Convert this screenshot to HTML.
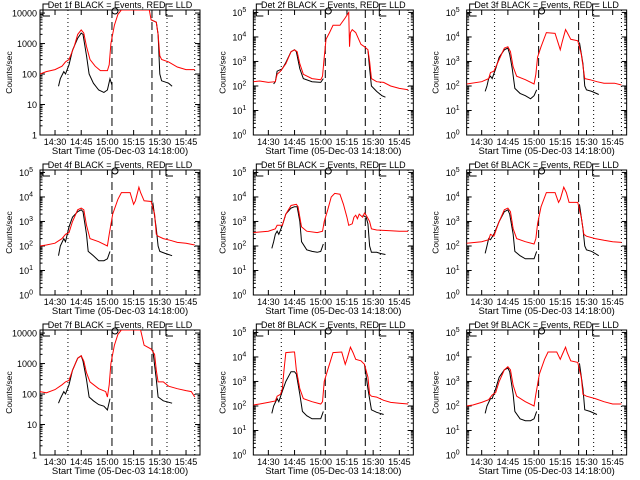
<!DOCTYPE html>
<html><head><meta charset="utf-8"><style>
html,body{margin:0;padding:0;background:#fff;}
svg{display:block;font-family:"Liberation Sans",sans-serif;}
</style></head><body>
<svg id="fig" width="640" height="480" viewBox="0 0 640 480" xmlns="http://www.w3.org/2000/svg"></svg>
<script>
// Data: time in minutes after 14:00, counts/sec
const detNames = ["1f","2f","3f","4f","5f","6f","7f","8f","9f"];
const decades = [4,5,5,5,5,5,4,5,5];
const xTickMinutes = [30,45,60,75,90,105];
const xTickLabels = ["14:30","14:45","15:00","15:15","15:30","15:45"];
const dottedTimes = [37.4,94.1,110];
const dashedTimes = [62.6,85.5];
const red1t=[21.4,25,30,34,36,38,41,43,45,46.5,48,50,53,56,60,61,62,64,66,68,84,85,88,89,90,91,95,100,105,110];
const red1v=[100,120,140,180,250,300,800,2000,2800,2200,800,300,180,130,130,200,1000,4000,9000,14000,14000,6000,5000,2000,400,300,250,170,140,140];
const blk1t=[32,33,35,36,38,40,43,45,46,48,49.5,52,55,58,60,61.5,62.5,null,85,88,89,90,91,95,97];
const blk1v=[40,70,120,100,200,600,1500,2200,2000,400,100,50,30,25,30,70,45,null,6000,5000,2000,100,60,50,40];
const red2t=[21.4,25,30,34,35,37,40,43,45,46.5,48,50,55,60,61,62,63,65,67,71,74,76,76.5,77,78,80,83,85,87,88,89,92,96,100,105,110];
const red2v=[150,160,140,150,300,400,800,2500,3000,2500,800,300,200,180,250,1500,8000,15000,30000,30000,60000,100000,4000,15000,20000,15000,5000,4000,3000,1000,200,150,140,100,80,70];
const blk2t=[33,34,35,38,40,43,45,46,48,50,55,60,61.5,null,87,88,89,92,95,97];
const blk2v=[120,150,400,500,900,2500,3000,2500,500,200,150,140,200,null,3000,500,100,60,40,35];
const red3t=[21.4,30,34,35,37,40,43,45,46.5,48,50,55,60,61,62,64,67,72,74,75,76,78,79,81,85,87,89,92,96,100,106,110];
const red3v=[120,150,200,350,400,1200,3500,4000,2500,600,250,180,120,300,1500,4000,15000,14000,5000,3000,6000,20000,15000,8000,7000,2000,200,180,150,130,130,110];
const blk3t=[32,33,34,35,36,38,40,43,45,46,47.5,49,52,55,58,60,61.5,null,86,88,89,90,93,97];
const blk3v=[60,100,200,250,200,500,1500,3000,3500,2000,500,80,50,40,30,40,70,null,6000,800,100,70,60,45];
const red4t=[21.4,25,30,34,36,38,40,43,45,46.5,48,50,55,60,61,63,66,68,73,75,76,78,79,81,85,87,88,89,92,96,100,105,110];
const red4v=[100,110,130,200,300,350,1000,3000,3500,3000,700,200,150,100,300,2000,8000,15000,15000,5000,7000,25000,15000,7000,6500,2000,300,250,200,170,140,130,110];
const blk4t=[32,33,35,36,38,40,43,45,46,48,49,52,55,58,60,61.5,null,86,88,89,90,93,97];
const blk4v=[40,100,200,150,600,1500,2500,3000,2500,300,60,40,25,25,30,60,null,6000,500,100,60,50,40];
const red5t=[21.4,30,34,35,38,40,43,46,47,48,49,52,58,61,62,64,66,68,71,73,75,76,78,79,80,81,82,84,85,86,88,89,92,100,105,110];
const red5v=[350,400,500,700,700,2000,4500,5000,4000,1500,600,400,350,400,1000,3000,10000,14000,13000,5000,1500,700,800,1500,1800,1300,2000,1500,2200,1800,1000,500,450,420,400,400];
const blk5t=[32,33,34,35,36,38,40,43,45,46.5,48,49,52,55,58,60,61.5,null,84,86,87,88,89,92,94,97];
const blk5v=[80,150,300,400,300,700,2000,3500,4000,4000,1000,150,70,60,55,60,120,null,1800,1500,800,100,55,55,50,45];
const red6t=[21.4,30,34,35,37,40,43,45,46.5,48,50,55,60,61,62,64,67,72,74,75,77,78.5,80,85,87,88.5,90,95,100,105,110];
const red6v=[130,150,180,300,250,1000,3000,3500,2500,500,200,150,120,200,800,4000,15000,15000,6000,8000,25000,15000,6000,6000,1500,300,250,200,170,150,140];
const blk6t=[32,33,34,35,37,40,43,45,46,48,49,52,55,58,60,61.5,null,86,88,89,90,93,97];
const blk6v=[50,100,200,180,300,1000,2500,3000,2000,300,60,40,30,30,30,60,null,5000,500,100,70,60,40];
const red7t=[21.4,25,30,34,36,38,40,43,45,46.5,48,50,55,59,60,61,62,64,66,68,79,81,85,87,88,89,92,95,100,105,108,110];
const red7v=[120,110,140,200,250,280,600,1500,1800,1200,500,250,150,120,80,200,1000,4000,9000,14000,14000,4000,3000,2000,600,250,250,180,150,130,120,80];
const blk7t=[32,33,35,36,38,40,43,45,46,48,49.5,52,55,58,60,61.5,null,86,88,89,92,97];
const blk7v=[50,70,120,100,200,600,1500,1800,1200,300,80,60,45,40,30,70,null,2800,300,80,60,50];
const red8t=[21.4,25,30,34,35,37,38,39,40,44,45,46,48,50,55,60,61,62,64,67,72,74,75,77,78.5,80,83,85,87,88,89,92,96,100,105,110];
const red8v=[110,120,140,160,250,300,500,3000,15000,16000,16000,3000,500,200,150,120,150,1000,3000,15000,16000,5000,8000,25000,15000,8000,7000,5000,1500,300,250,230,170,140,130,120];
const blk8t=[32,33,35,36,38,40,43,45,46,48,49.5,52,55,58,60,61.5,null,85,87,89,92,96];
const blk8v=[50,100,200,150,400,1000,2500,2500,2000,300,60,40,30,30,30,60,null,5000,500,70,55,45];
const red9t=[21.4,25,30,34,36,38,40,43,45,46.5,48,50,55,60,61,63,66,68,73,75,76,78,79,81,85,87,88,90,95,100,105,110];
const red9v=[100,110,140,180,280,350,1000,3000,4000,3000,700,250,150,100,300,2000,8000,16000,16000,8000,12000,25000,15000,7000,6000,1500,300,250,200,150,120,120];
const blk9t=[32,33,35,36,38,40,43,45,46,48,49,52,55,58,60,61.5,null,86,88,89,92,96];
const blk9v=[50,100,200,200,500,1500,3000,3500,2500,300,60,30,25,25,30,60,null,5500,500,70,60,45];
const redT=[red1t,red2t,red3t,red4t,red5t,red6t,red7t,red8t,red9t];
const redV=[red1v,red2v,red3v,red4v,red5v,red6v,red7v,red8v,red9v];
const blkT=[blk1t,blk2t,blk3t,blk4t,blk5t,blk6t,blk7t,blk8t,blk9t];
const blkV=[blk1v,blk2v,blk3v,blk4v,blk5v,blk6v,blk7v,blk8v,blk9v];

const NS="http://www.w3.org/2000/svg";
const svg=document.getElementById('fig');
const T0=21.4,T1=113,BX0=40,BX1=200,BY0=10,BY1=135;
function mk(tag,attrs,parent){const e=document.createElementNS(NS,tag);for(const k in attrs)e.setAttribute(k,attrs[k]);parent.appendChild(e);return e;}

for(let p=0;p<9;p++){
  const col=p%3,row=Math.floor(p/3);
  const g=mk('g',{transform:`translate(${(col*213.33).toFixed(2)},${row*160})`},svg);
  
  
  const dec=decades[p];
  const ymax=dec+0.1;
  const xs=t=>BX0+(t-T0)/(T1-T0)*(BX1-BX0);
  const ys=v=>BY1-(Math.log10(v))/ymax*(BY1-BY0);
  const title=mk('text',{x:120,y:8,'font-size':9,'text-anchor':'middle',fill:'#000'},g);
  title.textContent='Det '+detNames[p]+' BLACK = Events, RED = LLD';
  
  
  const box=mk('rect',{x:BX0,y:BY0,width:BX1-BX0,height:BY1-BY0,fill:'none',stroke:'#000','stroke-width':1},g);
  
  
  for(let d=0;d<=dec;d++){
    for(let m=1;m<10;m++){
      const v=m*Math.pow(10,d);
      if(Math.log10(v)>ymax)break;
      const y=ys(v);const L=m===1?5:2.5;
      mk('line',{x1:BX0,x2:BX0+L,y1:y,y2:y,stroke:'#000'},g);
      mk('line',{x1:BX1,x2:BX1-L,y1:y,y2:y,stroke:'#000'},g);
    }
    const lab=mk('text',{x:BX0-3,y:ys(Math.pow(10,d))+3.5,'font-size':9,'text-anchor':'end',fill:'#000'},g);
    
    
    if(dec===4){lab.textContent=String(Math.pow(10,d));}
    else{lab.textContent='10';const s=mk('tspan',{dy:-4,'font-size':7},lab);s.textContent=String(d);lab.setAttribute('x',BX0-7);}
  }
  for(let i=0;i<xTickMinutes.length;i++){
    const x=xs(xTickMinutes[i]);
    mk('line',{x1:x,x2:x,y1:BY1,y2:BY1-5,stroke:'#000'},g);
    mk('line',{x1:x,x2:x,y1:BY0,y2:BY0+5,stroke:'#000'},g);
    const lab=mk('text',{x:x,y:BY1+10,'font-size':9,'text-anchor':'middle',fill:'#000'},g);
    lab.textContent=xTickLabels[i];
    
    
  }
  const xt=mk('text',{x:120,y:BY1+19,'font-size':9.5,'text-anchor':'middle',fill:'#000'},g);
  xt.textContent='Start Time (05-Dec-03 14:18:00)';
  
  
  const yt=mk('text',{x:0,y:0,'font-size':8.5,'text-anchor':'middle',fill:'#000',transform:`translate(12,${(BY0+BY1)/2}) rotate(-90)`},g);
  yt.textContent='Counts/sec';
  
  
  mk('path',{d:'M43 16 V4 H49 M43 16 H50',fill:'none',stroke:'#000'},g);
  mk('circle',{cx:xs(dashedTimes[0])+3,cy:11,r:3,fill:'none',stroke:'#000'},g);
  mk('path',{d:`M${xs(94.1)-1} 16 V4 H${xs(94.1)+5} M${xs(94.1)-1} 16 H${xs(94.1)+6}`,fill:'none',stroke:'#000'},g);
  for(const t of dottedTimes){const l=mk('line',{x1:xs(t),x2:xs(t),y1:BY0,y2:BY1,stroke:'#000','stroke-dasharray':'1 3'},g);
    }
  for(const t of dashedTimes){const l=mk('line',{x1:xs(t),x2:xs(t),y1:BY0,y2:BY1,stroke:'#000','stroke-dasharray':'8 4'},g);
    }
  function path(ts,vs){let d='',pen=false;
    for(let i=0;i<ts.length;i++){if(ts[i]===null){pen=false;continue;}
      const x=xs(ts[i]),y=Math.max(BY0,ys(vs[i]));d+=(pen?'L':'M')+x.toFixed(1)+' '+y.toFixed(1);pen=true;}
    return d;}
  const cp=mk('clipPath',{id:'c'+p},g);mk('rect',{x:BX0,y:BY0,width:BX1-BX0,height:BY1-BY0},cp);
  const bl=mk('path',{d:path(blkT[p],blkV[p]),fill:'none',stroke:'#000','stroke-width':1,'clip-path':`url(#c${p})`},g);
  
  
  const rl=mk('path',{d:path(redT[p],redV[p]),fill:'none',stroke:'#ff0000','stroke-width':1,'clip-path':`url(#c${p})`},g);
  
  
}
</script>
</body></html>
